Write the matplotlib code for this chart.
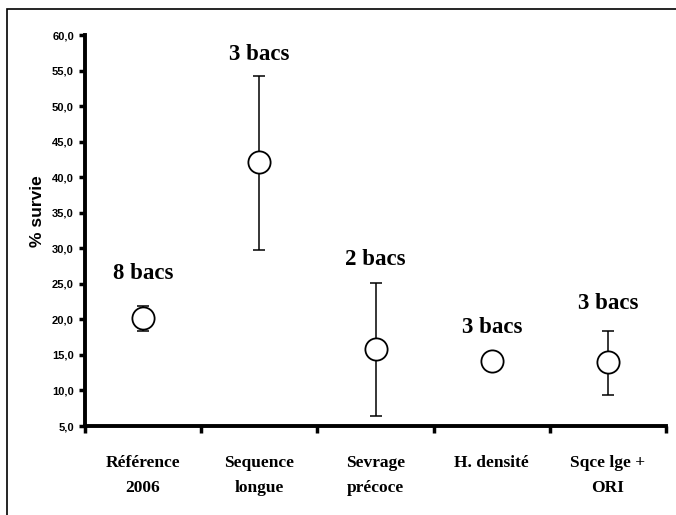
import numpy as np
import matplotlib
matplotlib.use('Agg')
import matplotlib.pyplot as plt
from matplotlib.patches import Rectangle

# ── Survival per rearing condition ────────────────────────────────────────────
categories = ['Référence\n2006', 'Sequence\nlongue', 'Sevrage\nprécoce',
              'H. densité', 'Sqce lge +\nORI']
survie_mean = [20.2, 42.1, 15.8, 14.2, 14.0]
err_low = [18.3, 29.8, 6.4, 14.2, 9.3]
err_high = [21.9, 54.3, 25.1, 14.2, 18.4]
n_labels = ['8 bacs', '3 bacs', '2 bacs', '3 bacs', '3 bacs']
label_y = [26.5, 57.3, 28.4, 18.8, 22.3]
yticks = np.arange(5, 61, 5)

serif = ['Liberation Serif', 'DejaVu Serif']
sans = ['Liberation Sans', 'DejaVu Sans']

fig = plt.figure(figsize=(6.76, 5.15), dpi=100)
ax = fig.add_axes([85 / 676, 89 / 515, 581 / 676, 391 / 515])

x = np.arange(len(categories)) + 0.5
mean = np.array(survie_mean)
yerr = [mean - np.array(err_low), np.array(err_high) - mean]

ax.errorbar(x, mean, yerr=yerr, fmt='none', ecolor='black', elinewidth=1.1,
            capsize=4.3, capthick=1.1, zorder=2)
ax.plot(x, mean, 'o', ms=16, mfc='white', mec='black', mew=1.3,
        linestyle='none', zorder=3)

for xi, txt, ty in zip(x, n_labels, label_y):
    ax.text(xi, ty, txt, ha='center', va='center', fontsize=16.5,
            fontweight='bold', family=serif)

ax.set_xlim(0, len(categories))
ax.set_ylim(5, 60)
ax.set_yticks(yticks)
ax.set_yticklabels([f'{v:.1f}'.replace('.', ',') for v in yticks],
                   fontsize=8, fontweight='bold', family=sans)
ax.set_xticks(np.arange(len(categories) + 1))
ax.set_xticklabels([])
ax.set_xticks(x, minor=True)
ax.set_xticklabels(categories, minor=True, fontsize=12.5, fontweight='bold',
                   family=serif, linespacing=1.7)
ax.tick_params(axis='x', which='minor', length=0, pad=21)
ax.tick_params(axis='x', which='major', direction='out', length=5, width=2.5)
ax.tick_params(axis='y', direction='out', length=4, width=2.5, pad=4)

for side in ['top', 'right']:
    ax.spines[side].set_visible(False)
for side in ['left', 'bottom']:
    ax.spines[side].set_linewidth(2.8)

ax.set_ylabel('% survie', fontsize=12.5, fontweight='bold', family=sans)
ax.yaxis.set_label_coords(-40 / 581, 0.55)

# outer frame
fig.patches.append(Rectangle((7 / 676, -0.05), 1.0, 1 - 9 / 515 + 0.05,
                             transform=fig.transFigure, fill=False,
                             edgecolor='black', linewidth=1.2))

fig.savefig('out.png', dpi=100)
